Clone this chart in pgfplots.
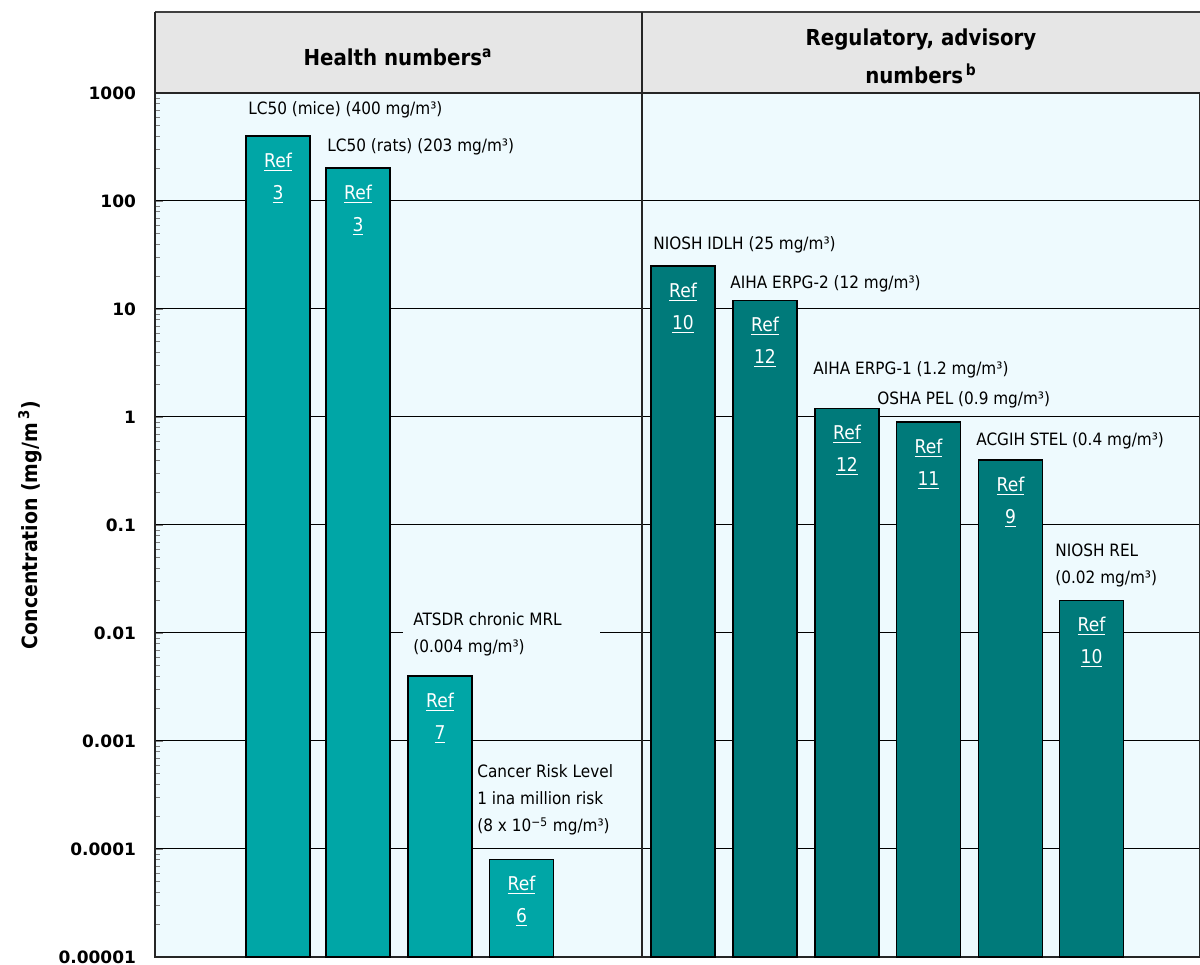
\documentclass[border=0pt]{standalone}
\usepackage{pgfplots}
\pgfplotsset{compat=1.18}
\usepackage{fontspec}
\setmainfont{DejaVu Sans Condensed}
\newfontfamily\condb{DejaVu Sans Condensed}
\newfontfamily\tickf{DejaVu Sans}
\definecolor{bgc}{RGB}{238,250,254}
\definecolor{hdr}{RGB}{230,230,230}
\definecolor{hc}{RGB}{0,166,166}
\definecolor{rc}{RGB}{0,122,122}
\begin{document}
\begin{tikzpicture}
\begin{axis}[
  name=ax, scale only axis, width=522.5pt, height=432pt,
  ymode=log, ymin=1e-5, ymax=1000, xmin=155, xmax=1200,
  log origin y=infty,
  xtick=\empty,
  ytick={1e-5,1e-4,1e-3,1e-2,1e-1,1,10,100,1000},
  yticklabels={0.00001,0.0001,0.001,0.01,0.1,1,10,100,1000},
  ytick pos=left, tick align=inside,
  major tick length=4pt, minor tick length=2.5pt,
  ymajorgrids, major grid style={black, line width=0.5pt},
  axis background/.style={fill=bgc},
  axis line style={line width=0.8pt, black!85},
  /pgf/number format/assume math mode=true,
  yticklabel style={font=\tickf\bfseries\fontsize{8.5}{10}\selectfont, xshift=-6pt},
  ylabel={Concentration (mg/m\,\textsuperscript{3})},
  ylabel style={font=\condb\bfseries\fontsize{10.5}{12}\selectfont, at={(axis description cs:-0.1196,0.5)}, anchor=center},
  clip=false,
]
\addplot[ybar, bar width=64, bar shift=0pt, fill=hc, draw=black, line width=0.9pt,
  point meta=explicit symbolic,
  nodes near coords={\underline{Ref}\\\underline{\pgfplotspointmeta}},
  every node near coord/.append style={anchor=north, align=center, text=white, inner sep=0pt, yshift=-8pt, font=\fontsize{9.5}{16}\selectfont}]
  table[meta=r] {
x y r
278 400 3
358 203 3
440 0.004 7
521.5 8e-5 6
};
\addplot[ybar, bar width=64, bar shift=0pt, fill=rc, draw=black, line width=0.9pt,
  point meta=explicit symbolic,
  nodes near coords={\underline{Ref}\\\underline{\pgfplotspointmeta}},
  every node near coord/.append style={anchor=north, align=center, text=white, inner sep=0pt, yshift=-8pt, font=\fontsize{9.5}{16}\selectfont}]
  table[meta=r] {
x y r
683 25 10
765 12 12
847 1.2 12
928.5 0.9 11
1010.5 0.4 9
1091.5 0.02 10
};
% header band
\fill[hdr] (axis cs:155,1000) rectangle (axis cs:1200,5623);
\draw[line width=1pt, black!75] (axis cs:155,5623) -- (axis cs:1200,5623);
\draw[line width=0.8pt, black!85] (axis cs:155,1000) -- (axis cs:155,5623);
\draw[line width=0.8pt, black!85] (axis cs:155,1000) -- (axis cs:1200,1000);
\draw[line width=0.8pt, black!85] (axis cs:642,1e-5) -- (axis cs:642,5623);
\node[font=\condb\bfseries\fontsize{11}{13}\selectfont] at (axis cs:398,2154) {Health numbers\textsuperscript{a}};
\node[font=\condb\bfseries\fontsize{11}{19}\selectfont, align=center] at (axis cs:921,2203) {Regulatory, advisory\\numbers\textsuperscript{\,b}};
% bar annotations
\begin{scope}[every node/.style={anchor=west, inner sep=0pt, font=\fontsize{8.5}{13.5}\selectfont, align=left}]
\node at (axis cs:248,696) {LC50 (mice) (400 mg/m³)};
\node at (axis cs:327,316) {LC50 (rats) (203 mg/m³)};
\node[fill=bgc, inner xsep=5pt, inner ysep=1pt] at (axis cs:403,0.0097) {ATSDR chronic MRL\hspace*{14pt}\\(0.004 mg/m³)};
\node at (axis cs:477,2.84e-4) {Cancer Risk Level\\1 ina million risk\\(8 x 10\textsuperscript{−5} mg/m³)};
\node at (axis cs:653,39.2) {NIOSH IDLH (25 mg/m³)};
\node at (axis cs:730,17.0) {AIHA ERPG-2 (12 mg/m³)};
\node at (axis cs:813,2.72) {AIHA ERPG-1 (1.2 mg/m³)};
\node at (axis cs:877,1.44) {OSHA PEL (0.9 mg/m³)};
\node at (axis cs:976,0.600) {ACGIH STEL (0.4 mg/m³)};
\node at (axis cs:1055,0.0422) {NIOSH REL\\(0.02 mg/m³)};
\end{scope}
\end{axis}
\pgfresetboundingbox
\useasboundingbox ([xshift=-77.5pt,yshift=-4pt]ax.south west) rectangle ([yshift=46.5pt]ax.north east);
\end{tikzpicture}
\end{document}
